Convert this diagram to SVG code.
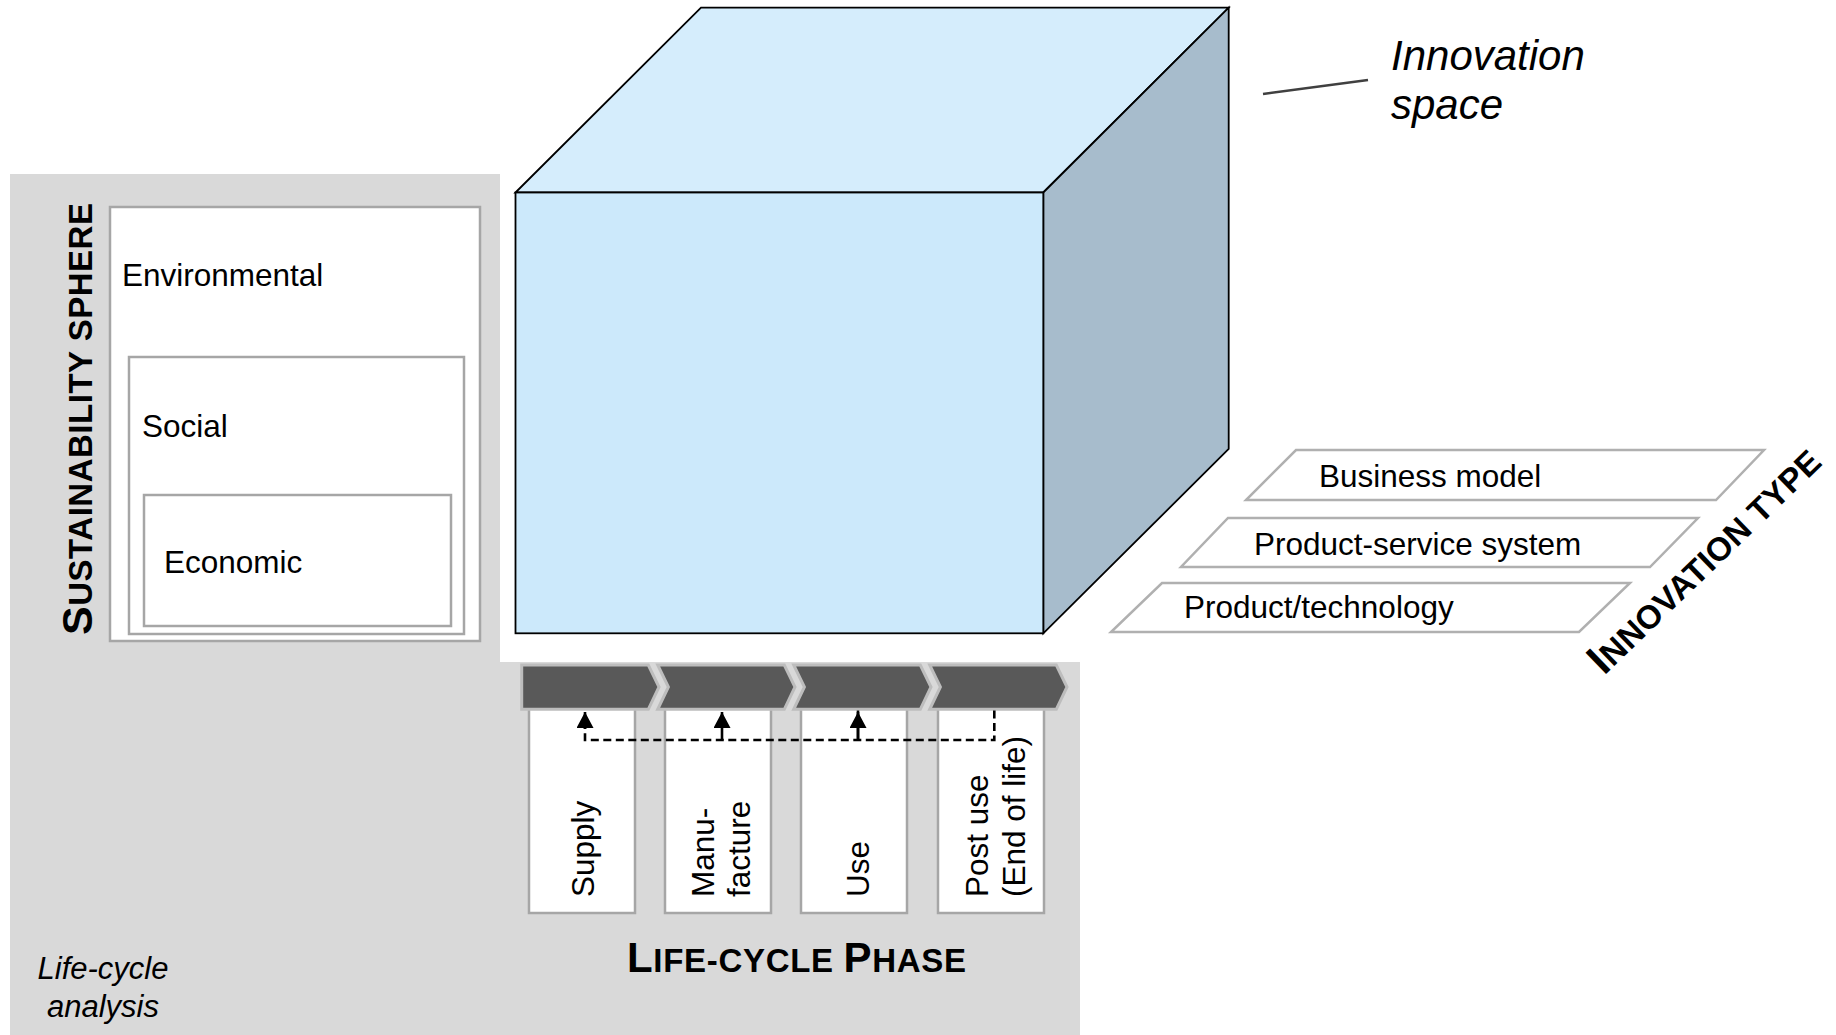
<svg xmlns="http://www.w3.org/2000/svg" width="1836" height="1035" viewBox="0 0 1836 1035">
<style>
  .t { font-family: "Liberation Sans", Arial, sans-serif; fill: #000; }
  .lbl { font-size: 31.5px; }
  .ital { font-style: italic; }
  .head { font-weight: bold; }
  .box { fill: #fff; stroke: #a6a6a6; stroke-width: 2.5; }
  .para { fill: #fff; stroke: #b0b0b0; stroke-width: 2.5; }
  .chev { fill: #595959; stroke: #bdbdbd; stroke-width: 3; stroke-linejoin: miter; }
  .cube { stroke: #000; stroke-width: 1.8; stroke-linejoin: miter; }
  .dash { fill: none; stroke: #000; stroke-width: 2.6; stroke-dasharray: 8 4.5; }
  .solid { fill: none; stroke: #000; stroke-width: 2.6; }
</style>
<defs>
  <marker id="arr" markerUnits="userSpaceOnUse" markerWidth="17" markerHeight="17" viewBox="0 0 17 17" refX="16" refY="8.5" orient="auto">
    <path d="M0,0 L16,8.5 L0,17 Z" fill="#000"/>
  </marker>
</defs>

<rect x="0" y="0" width="1836" height="1035" fill="#fff"/>

<g id="lca-background">
  <polygon points="10,174 500,174 500,662 1080,662 1080,1035 10,1035" fill="#d9d9d9"/>
  <text class="t ital" font-size="31" text-anchor="middle"><tspan x="103" y="979">Life-cycle</tspan><tspan x="103" y="1017">analysis</tspan></text>
</g>

<g id="sustainability-sphere">
  <rect class="box" x="110" y="207" width="370" height="434"/>
  <text class="t lbl" x="122" y="286">Environmental</text>
  <rect class="box" x="129" y="357" width="335" height="277"/>
  <text class="t lbl" x="142" y="437">Social</text>
  <rect class="box" x="144" y="495" width="307" height="131"/>
  <text class="t lbl" x="164" y="573">Economic</text>
  <text class="t head" transform="translate(92,635) rotate(-90)" textLength="432" lengthAdjust="spacing"><tspan font-size="43">S</tspan><tspan font-size="33">USTAINABILITY SPHERE</tspan></text>
</g>

<g id="innovation-space">
  <polygon class="cube" fill="#d5edfc" points="515.5,192.5 701,7.7 1228.7,7.7 1043.3,192.5"/>
  <polygon class="cube" fill="#a7bccc" points="1043.3,192.5 1228.7,7.7 1228.7,449 1043.3,633.3"/>
  <rect class="cube" fill="#cce9fb" x="515.5" y="192.5" width="527.8" height="440.8"/>
  <line x1="1263" y1="94" x2="1368" y2="80" stroke="#404040" stroke-width="2.5"/>
  <text class="t ital" font-size="42"><tspan x="1391" y="70">Innovation</tspan><tspan x="1391" y="119">space</tspan></text>
</g>

<g id="innovation-type">
  <polygon class="para" points="1296,450 1764,450 1716,500 1246,500"/>
  <text class="t lbl" x="1319" y="487">Business model</text>
  <polygon class="para" points="1228,518 1698,518 1650,567 1181,567"/>
  <text class="t lbl" x="1254" y="555">Product-service system</text>
  <polygon class="para" points="1162,583 1630,583 1579,632 1111,632"/>
  <text class="t lbl" x="1184" y="618">Product/technology</text>
  <text class="t head" transform="translate(1604,676) rotate(-44)" textLength="305" lengthAdjust="spacing"><tspan font-size="43">I</tspan><tspan font-size="33">NNOVATION TYPE</tspan></text>
</g>

<g id="phase-supply">
  <rect class="box" x="529" y="705" width="106" height="208"/>
  <polygon class="chev" points="521.7,665 648.3,665 659,687 648.3,709.3 521.7,709.3"/>
  <text class="t lbl" transform="translate(594,897) rotate(-90)">Supply</text>
</g>
<g id="phase-manufacture">
  <rect class="box" x="665" y="705" width="106" height="208"/>
  <polygon class="chev" points="657.7,665 784.3,665 795,687 784.3,709.3 657.7,709.3 668.4,687"/>
  <text class="t lbl" transform="translate(713.5,897) rotate(-90)">Manu-</text>
  <text class="t lbl" transform="translate(750,897) rotate(-90)">facture</text>
</g>
<g id="phase-use">
  <rect class="box" x="801" y="705" width="106" height="208"/>
  <polygon class="chev" points="793.7,665 920.3,665 931,687 920.3,709.3 793.7,709.3 804.4,687"/>
  <text class="t lbl" transform="translate(869,897) rotate(-90)">Use</text>
</g>
<g id="phase-postuse">
  <rect class="box" x="938" y="705" width="106" height="208"/>
  <polygon class="chev" points="929.7,665 1056.3,665 1067,687 1056.3,709.3 929.7,709.3 940.4,687"/>
  <text class="t lbl" transform="translate(988,897) rotate(-90)">Post use</text>
  <text class="t lbl" transform="translate(1025,897) rotate(-90)">(End of life)</text>
</g>

<g id="lifecycle-title">
  <text class="t head" x="627" y="972" textLength="339" lengthAdjust="spacing"><tspan font-size="42">L</tspan><tspan font-size="33">IFE-CYCLE </tspan><tspan font-size="42">P</tspan><tspan font-size="33">HASE</tspan></text>
</g>

<g id="connectors">
  <path class="dash" d="M994.3,710.5 V740 H585 V728"/>
  <path class="solid" d="M585,729 V712" marker-end="url(#arr)"/>
  <path class="solid" d="M722,740 V712" marker-end="url(#arr)"/>
  <path class="solid" d="M858,710.5 V740"/>
  <path class="solid" d="M858,740 V712" marker-end="url(#arr)"/>
</g>
</svg>
